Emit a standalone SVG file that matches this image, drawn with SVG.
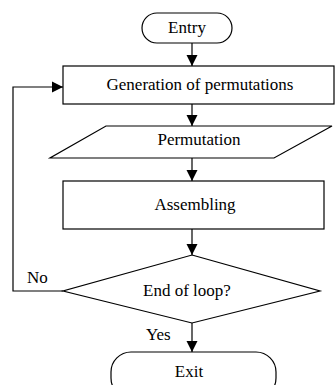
<svg xmlns="http://www.w3.org/2000/svg" width="335" height="385" viewBox="0 0 335 385" font-family="'Liberation Serif', 'Times New Roman', Times, serif" font-size="17">
<style>
.s{fill:#fff;stroke:#000;stroke-width:1.2}
.c{fill:none;stroke:#000;stroke-width:1.2}
text{font-family:'Liberation Serif','Times New Roman',Times,serif;font-size:17px;fill:#000}
.m{text-anchor:middle}
</style>
<defs>
<marker id="ah" markerWidth="12" markerHeight="12" refX="11" refY="6" orient="auto" markerUnits="userSpaceOnUse">
<path d="M0,0.5 L11,6 L0,11.5 Z" fill="#000"/>
</marker>
</defs>
<rect width="335" height="385" fill="#fff"/>
<g id="connectors">
<line class="c" x1="192" y1="43" x2="192" y2="66" marker-end="url(#ah)"/>
<line class="c" x1="192" y1="104" x2="192" y2="126" marker-end="url(#ah)"/>
<line class="c" x1="192" y1="158" x2="192" y2="181" marker-end="url(#ah)"/>
<line class="c" x1="192" y1="229" x2="192" y2="255" marker-end="url(#ah)"/>
<line class="c" x1="192" y1="323" x2="192" y2="352" marker-end="url(#ah)"/>
<polyline class="c" points="63,291 13,291 13,87 63,87" marker-end="url(#ah)"/>
<text x="27" y="283">No</text>
<text x="146" y="340">Yes</text>
</g>
<g id="entry">
<rect class="s" x="142" y="13" width="90" height="30" rx="15"/>
<text class="m" x="187" y="33">Entry</text>
</g>
<g id="generation">
<rect class="s" x="63" y="66" width="271" height="38"/>
<text class="m" x="200" y="90">Generation of permutations</text>
</g>
<g id="permutation">
<polygon class="s" points="106,126 332,126 274,158 50,158"/>
<text class="m" x="199" y="145">Permutation</text>
</g>
<g id="assembling">
<rect class="s" x="63" y="181" width="261" height="48"/>
<text class="m" x="195" y="210">Assembling</text>
</g>
<g id="decision">
<polygon class="s" points="192,255 320,291 192,323 63,291"/>
<text class="m" x="187" y="296">End of loop?</text>
</g>
<g id="exit">
<rect class="s" x="111" y="352" width="165" height="46" rx="20"/>
<text class="m" x="189" y="377">Exit</text>
</g>
</svg>
